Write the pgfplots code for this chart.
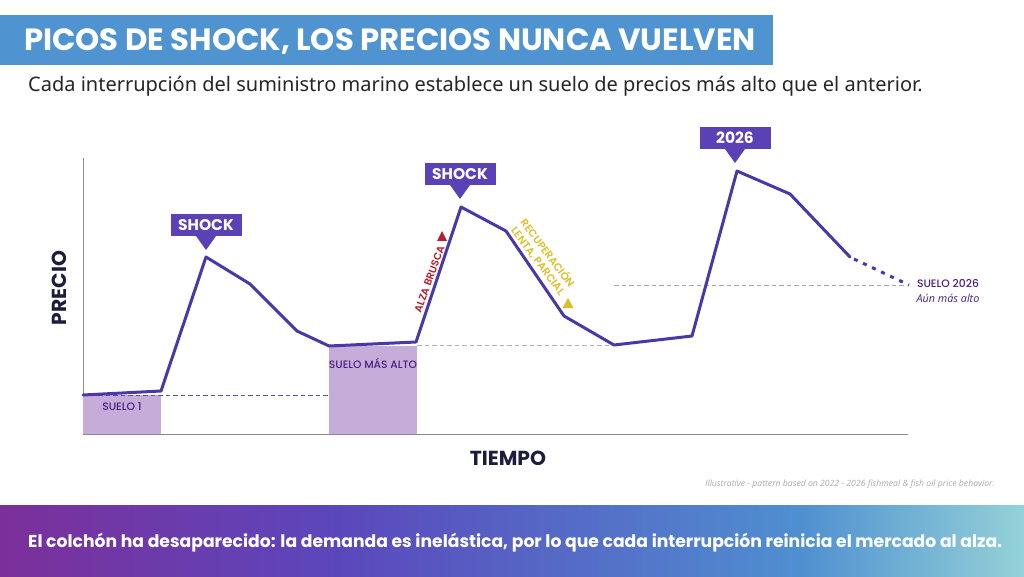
\documentclass[border=0pt]{standalone}
\usepackage{fontspec}
\setmainfont{Noto Sans}
\newfontfamily\pop{Poppins}
\newfontfamily\popm{Poppins Medium}
\newfontfamily\pops{Poppins SemiBold}
\newfontfamily\opn{Open Sans}
\usepackage{pgfplots}
\pgfplotsset{compat=1.18}
\usetikzlibrary{shadings}
\definecolor{barblue}{HTML}{4F93D1}
\definecolor{linec}{HTML}{4A37A8}
\definecolor{callout}{HTML}{5A41B6}
\definecolor{floorc}{HTML}{C6ACD8}
\definecolor{purp}{HTML}{4B1F82}
\definecolor{inkc}{HTML}{1C1C3C}
\definecolor{redc}{HTML}{B3202E}
\definecolor{goldc}{HTML}{DBBF2B}
\definecolor{fa}{HTML}{7C2F9B}
\definecolor{fb}{HTML}{5B47BC}
\definecolor{fc}{HTML}{4F8FD0}
\definecolor{fd}{HTML}{94D2D8}
\pgfdeclarehorizontalshading{foot}{100bp}{color(0bp)=(fa); color(25bp)=(fa); color(41.5bp)=(fb); color(64bp)=(fc); color(75bp)=(fd); color(100bp)=(fd)}
\newcommand{\fs}[1]{\fontsize{#1}{#1}\selectfont}
\begin{document}
\begin{tikzpicture}[x=1pt,y=1pt]
\fill[white] (0,0) rectangle (1024,576);
\fill[barblue] (0,511) rectangle (773,561);
\node[anchor=west,inner sep=0pt,text=white] at (24,534) {\pop\bfseries\fs{30.7}PICOS DE SHOCK, LOS PRECIOS NUNCA VUELVEN};
\node[anchor=west,inner sep=0pt,text=black!85] at (28,490) {\fs{20}Cada interrupción del suministro marino establece un suelo de precios más alto que el anterior.};
\shade[shading=foot] (0,0) rectangle (1024,71);
\node[anchor=west,inner sep=0pt,text=white] at (28,33.5) {\pop\bfseries\fs{17.2}El colchón ha desaparecido: la demanda es inelástica, por lo que cada interrupción reinicia el mercado al alza.};
\begin{axis}[
  at={(83pt,142pt)},anchor=south west,
  width=825pt,height=276pt,scale only axis,
  xmin=83,xmax=908,ymin=142,ymax=418,
  axis x line=bottom,axis y line=left,
  x axis line style={-,draw=black!45,line width=1pt},
  y axis line style={-,draw=black!45,line width=1pt},
  xtick=\empty,ytick=\empty,clip=false,
  xlabel={\pop\bfseries\fs{20.3}\textcolor{inkc}{TIEMPO}},
  ylabel={\pop\bfseries\fs{20.3}\textcolor{inkc}{PRECIO}},
  xlabel style={at={(axis cs:508,118)},anchor=center,inner sep=0pt},
  ylabel style={at={(axis cs:59,288)},anchor=center,inner sep=0pt,rotate=0},
]
% floors
\addplot[draw=none,fill=floorc,forget plot] coordinates {(83,142)(83,181)(161,181)(161,142)} -- cycle;
\addplot[draw=none,fill=floorc,forget plot] coordinates {(329,142)(329,230)(417,230)(417,142)} -- cycle;
% reference lines
\addplot[draw=linec!65!gray,line width=0.9pt,dash pattern=on 4.5pt off 3pt] coordinates {(83,181)(328,181)};
\addplot[draw=black!30,line width=0.9pt,dash pattern=on 4.5pt off 3pt] coordinates {(417,231)(614,231)};
\addplot[draw=black!35,line width=0.9pt,dash pattern=on 4.5pt off 3pt] coordinates {(614,291)(905,291)};
% price path
\addplot[draw=linec,line width=3pt,line join=round,line cap=round] coordinates {
(83,181)(161,185)(206,319)(250,292)(297,245)(329,230)(416,234)(461,369)(506,345)(564,260)(614,231)(692,240)(737,405)(790,382)(850,319)};
\addplot[draw=linec,line width=3pt,dash pattern=on 4pt off 6pt] coordinates {(854,317)(909,291)};
% callouts
\fill[callout] (171,340) rectangle (242,362);
\fill[callout] (196,340) -- (216,340) -- (206,326) -- cycle;
\node[text=white,inner sep=0pt] at (206,351) {\pop\bfseries\fs{15.5}SHOCK};
\fill[callout] (425,391) rectangle (496,413);
\fill[callout] (450,391) -- (470,391) -- (460,377) -- cycle;
\node[text=white,inner sep=0pt] at (460,402) {\pop\bfseries\fs{15.5}SHOCK};
\fill[callout] (700,427) rectangle (771,449);
\fill[callout] (725,427) -- (745,427) -- (735,413) -- cycle;
\node[text=white,inner sep=0pt] at (735,438) {\pop\bfseries\fs{15.5}2026};
% slope notes
\node[text=redc,inner sep=0pt,rotate=70] at (429.5,297) {\pops\fs{10.3}ALZA BRUSCA};
\fill[redc] (437,335) -- (447,335) -- (442,345) -- cycle;
\node[text=goldc,inner sep=0pt,rotate=-53] at (548.5,323.5) {\pops\fs{10.6}RECUPERACIÓN};
\node[text=goldc,inner sep=0pt,rotate=-53] at (537.5,314.5) {\pops\fs{10.6}LENTA, PARCIAL};
\fill[goldc] (562.5,268) -- (573.5,268) -- (568,278) -- cycle;
% floor labels
\node[text=purp,inner sep=0pt] at (122,169) {\popm\fs{10.8}SUELO 1};
\node[text=purp,inner sep=0pt] at (373,212) {\popm\fs{10.7}SUELO MÁS ALTO};
\node[text=purp,inner sep=0pt] at (948,292) {\popm\fs{10.8}SUELO 2026};
\node[text=purp,inner sep=0pt] at (948,278) {\opn\itshape\fs{10.8}Aún más alto};
\node[anchor=east,text=black!33,inner sep=0pt] at (995,92) {\opn\itshape\fs{8.65}Illustrative - pattern based on 2022 - 2026 fishmeal \& fish oil price behavior.};
\end{axis}
\end{tikzpicture}
\end{document}
